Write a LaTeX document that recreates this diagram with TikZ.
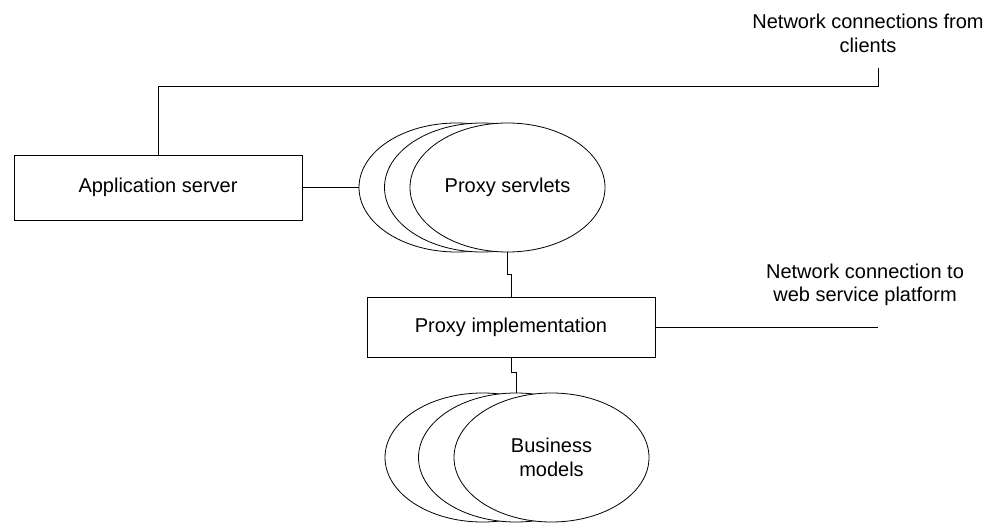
\documentclass[tikz,border=0pt]{standalone}
\usepackage{fontspec}
\setmainfont{Liberation Sans}
\usetikzlibrary{shapes.geometric, positioning}
\tikzset{
    every node/.style={font=\fontsize{15}{17.5}\selectfont}, % text size of every label
    box/.style={draw, rectangle, inner sep=0pt, minimum width=216pt}, % the two rectangles
    blob/.style={draw, ellipse, fill=white, inner sep=0pt, minimum width=146.25pt, minimum height=96.75pt}, % one ellipse of a stack
    note/.style={align=center}, % the texts at the right
}

\begin{document}
\begin{tikzpicture}[x=0.75pt, y=-0.75pt, line width=0.6pt]
    \useasboundingbox (0,0) rectangle (994,523);
    \node[box, minimum height=48.75pt] (appserver) at (158,187.5) {Application server};
    \node[blob] (servback) at (456.5,187.5) {};
    \node[blob] (servmid) at (482,187.5) {};
    \node[blob] (servfront) at (507.5,187.5) {Proxy servlets};
    \node[box, minimum height=45pt] (impl) at (511,327) {Proxy implementation};
    \node[blob] (busback) at (482.5,457.5) {};
    \node[blob] (busmid) at (516,457.5) {};
    \node[blob, align=center] (busfront) at (551.5,457.5) {Business\\models};
    \coordinate (clients) at (878,68);
    \coordinate (platform) at (878,327);
    \node[note] (clientstext) at (868,33.5) {Network connections from\\clients};
    \node[note] (platformtext) at (865,284.5) {Network connection to\\web service platform};
    \draw (appserver.north) -- ++(0,-68) -| (clients);
    \draw (appserver.east) -- (servback.west);
    \draw (servfront.south) -- ++(0,22) -| (impl.north);
    \draw (impl.south) -- ++(0,15) -| (busmid.north);
    \draw (impl.east) -- (platform);
\end{tikzpicture}
\end{document}
